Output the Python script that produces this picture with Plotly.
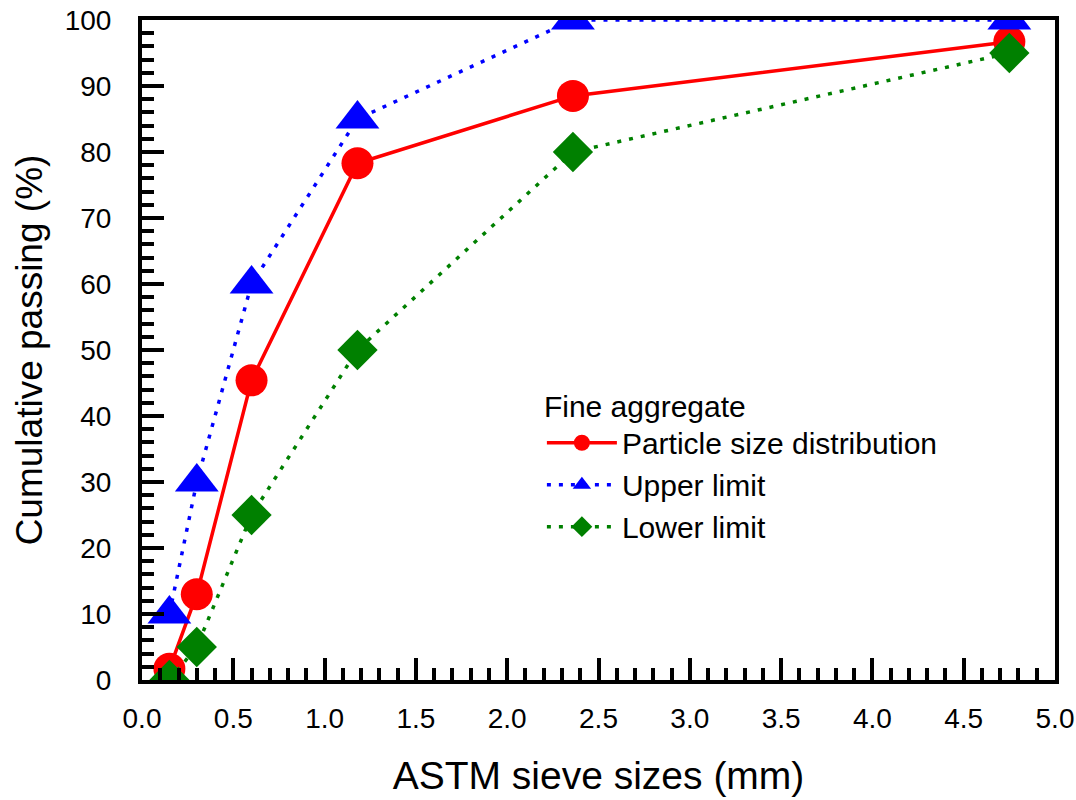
import plotly.graph_objects as go

sieve_sizes = [0.15, 0.3, 0.6, 1.18, 2.36, 4.75]
particle_dist = [1.7, 13.0, 45.4, 78.3, 88.5, 96.7]
upper_limit = [10, 30, 60, 85, 100, 100]
lower_limit = [0, 5, 25, 50, 80, 95]

FONT = "Liberation Sans, Arial, sans-serif"

fig = go.Figure()
fig.add_trace(go.Scatter(
    x=sieve_sizes, y=particle_dist, name="Particle size distribution", mode="lines+markers",
    line=dict(color="#ff0000", width=3.5),
    marker=dict(symbol="circle", size=32, color="#ff0000"),
))
fig.add_trace(go.Scatter(
    x=sieve_sizes, y=upper_limit, name="Upper limit", mode="lines+markers",
    line=dict(color="#0000ff", width=3.5, dash="4px,8px"),
    marker=dict(symbol="triangle-up", size=38, color="#0000ff"),
))
fig.add_trace(go.Scatter(
    x=sieve_sizes, y=lower_limit, name="Lower limit", mode="lines+markers",
    line=dict(color="#008000", width=3.5, dash="4px,8px"),
    marker=dict(symbol="diamond", size=31, color="#008000"),
))

fig.update_layout(
    width=1076, height=800,
    margin=dict(l=142, r=21, t=20, b=120, autoexpand=False),
    plot_bgcolor="white", paper_bgcolor="white",
    font=dict(family=FONT, size=28, color="black"),
    legend=dict(
        title=dict(text="Fine aggregate", font=dict(size=30)),
        x=0.438, y=0.458, xanchor="left", yanchor="top",
        bgcolor="rgba(0,0,0,0)", traceorder="normal",
        itemwidth=70, font=dict(size=30), tracegroupgap=0,
    ),
    showlegend=True,
)
fig.update_xaxes(
    range=[0, 5], dtick=0.5, tick0=0, tickformat=".1f",
    showgrid=False, zeroline=False, automargin=False,
    showline=True, linewidth=4, linecolor="black", mirror=True,
    ticks="inside", ticklen=22, tickwidth=3.5, tickcolor="black",
    minor=dict(dtick=0.1, ticks="inside", ticklen=12, tickwidth=3.5, tickcolor="black", showgrid=False),
    ticklabelstandoff=10, tickfont=dict(size=28),
    title=dict(text="ASTM sieve sizes (mm)", font=dict(size=39), standoff=30),
)
fig.update_yaxes(
    range=[0, 100], dtick=10, tick0=0,
    showgrid=False, zeroline=False, automargin=False,
    showline=True, linewidth=4, linecolor="black", mirror=True,
    ticks="inside", ticklen=22, tickwidth=3.5, tickcolor="black",
    minor=dict(dtick=2, ticks="inside", ticklen=12, tickwidth=3.5, tickcolor="black", showgrid=False),
    ticklabelstandoff=21, tickfont=dict(size=28),
    title=dict(text="Cumulative passing (%)", font=dict(size=37), standoff=12),
)

fig.write_html("out.html", config={"displayModeBar": False},
               post_script="document.body.style.margin='0';")
